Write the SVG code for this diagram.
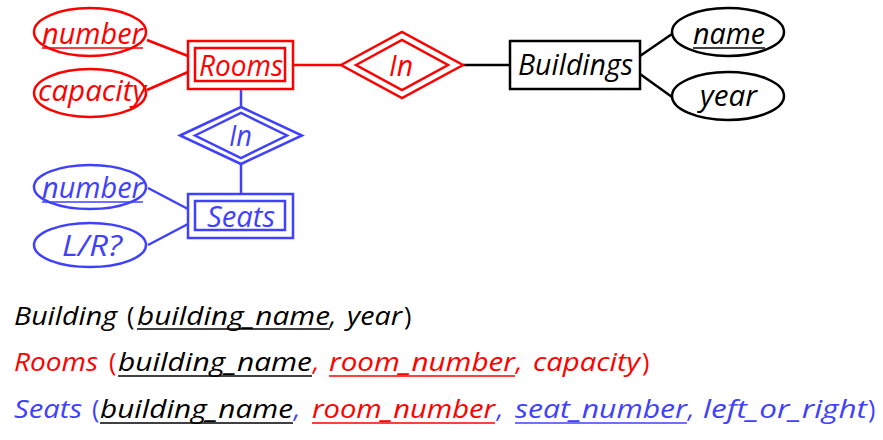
<svg xmlns="http://www.w3.org/2000/svg" width="883" height="440" viewBox="0 0 883 440">
<style>
.t{font-family:"Open Sans","Liberation Sans",sans-serif;font-style:italic;font-size:29px}
.b{font-family:"Open Sans","Liberation Sans",sans-serif;font-style:italic;font-size:25px}
.up{font-style:normal}
.r{fill:#FF0000}.u{fill:#4040FF}.k{fill:#000}
.sr{stroke:#FF0000;fill:none;stroke-width:2.5}
.su{stroke:#4040FF;fill:none;stroke-width:2.5}
.sk{stroke:#000;fill:none;stroke-width:2.5}
.ul{stroke-width:1.5}
</style>
<rect width="883" height="440" fill="#fff"/>
<g id="connectors">
<line class="sr" x1="147" y1="40" x2="188" y2="56"/>
<line class="sr" x1="147" y1="90" x2="188" y2="72"/>
<line class="sr" x1="293" y1="65" x2="341" y2="65"/>
<line class="sk" x1="463" y1="65" x2="510" y2="65"/>
<line class="sk" x1="640" y1="56" x2="672" y2="34"/>
<line class="sk" x1="640" y1="74" x2="672" y2="97"/>
<line class="su" x1="241" y1="89" x2="241" y2="107"/>
<line class="su" x1="241" y1="164" x2="241" y2="194"/>
<line class="su" x1="148" y1="188" x2="188" y2="209"/>
<line class="su" x1="148" y1="245" x2="188" y2="224"/>
</g>
<g id="rooms_number">
<ellipse class="sr" cx="90" cy="32" rx="56" ry="24"/>
<text class="t r" x="42" y="44" textLength="101" lengthAdjust="spacingAndGlyphs">number</text>
<line class="sr ul" x1="42" y1="48" x2="143" y2="48"/>
</g>
<g id="rooms_capacity">
<ellipse class="sr" cx="90" cy="93" rx="56" ry="24"/>
<text class="t r" x="38" y="101" textLength="108" lengthAdjust="spacingAndGlyphs">capacity</text>
</g>
<g id="rooms">
<rect class="sr" x="188" y="41" width="105" height="48"/>
<rect class="sr" x="195" y="48" width="90" height="33"/>
<text class="t r" x="199" y="76" textLength="84" lengthAdjust="spacingAndGlyphs">Rooms</text>
</g>
<g id="in_red">
<polygon class="sr" points="341,65 402,32 463,65 402,98"/>
<polygon class="sr" points="356,65 402,40 448,65 402,90"/>
<text class="t r" x="389" y="76" textLength="24" lengthAdjust="spacingAndGlyphs">In</text>
</g>
<g id="buildings">
<rect class="sk" x="510" y="41" width="130" height="48"/>
<text class="t k" x="518" y="75" textLength="115" lengthAdjust="spacingAndGlyphs">Buildings</text>
</g>
<g id="buildings_name">
<ellipse class="sk" cx="728" cy="32" rx="56" ry="24"/>
<text class="t k" x="693" y="44" textLength="72" lengthAdjust="spacingAndGlyphs">name</text>
<line class="sk ul" x1="693" y1="48" x2="765" y2="48" stroke="#555"/>
</g>
<g id="buildings_year">
<ellipse class="sk" cx="728" cy="96" rx="56" ry="24"/>
<text class="t k" x="700" y="106" textLength="57" lengthAdjust="spacingAndGlyphs">year</text>
</g>
<g id="in_blue">
<polygon class="su" points="180,135.5 241,107 302,135.5 241,164"/>
<polygon class="su" points="195,135.5 241,113 287,135.5 241,158"/>
<text class="t u" x="229" y="146" textLength="23" lengthAdjust="spacingAndGlyphs">In</text>
</g>
<g id="seats">
<rect class="su" x="188" y="194" width="105" height="44"/>
<rect class="su" x="195" y="201" width="90" height="29"/>
<text class="t u" x="207" y="227" textLength="68" lengthAdjust="spacingAndGlyphs">Seats</text>
</g>
<g id="seats_number">
<ellipse class="su" cx="90" cy="187" rx="56" ry="22"/>
<text class="t u" x="42" y="198" textLength="101" lengthAdjust="spacingAndGlyphs">number</text>
<line class="su ul" x1="42" y1="202" x2="143" y2="202"/>
</g>
<g id="seats_lr">
<ellipse class="su" cx="90" cy="245" rx="56" ry="22"/>
<text class="t u" x="62" y="256" textLength="60" lengthAdjust="spacingAndGlyphs">L/R?</text>
</g>
<g id="schema">
<text class="b k" x="14" y="325" textLength="103" lengthAdjust="spacingAndGlyphs">Building</text>
<text class="b k up" x="127" y="325">(</text>
<text class="b k" x="137" y="325" textLength="193" lengthAdjust="spacingAndGlyphs">building_name</text>
<line class="sk ul" x1="137" y1="329" x2="330" y2="329"/>
<text class="b k" x="330" y="325">,</text>
<text class="b k" x="347" y="325" textLength="55" lengthAdjust="spacingAndGlyphs">year</text>
<text class="b k up" x="404" y="325">)</text>

<text class="b r" x="14" y="371" textLength="84" lengthAdjust="spacingAndGlyphs">Rooms</text>
<text class="b r up" x="109" y="371">(</text>
<text class="b k" x="118" y="371" textLength="194" lengthAdjust="spacingAndGlyphs">building_name</text>
<line class="sk ul" x1="118" y1="376" x2="312" y2="376"/>
<text class="b r" x="313" y="371">,</text>
<text class="b r" x="329" y="371" textLength="186" lengthAdjust="spacingAndGlyphs">room_number</text>
<line class="sr ul" x1="329" y1="376" x2="515" y2="376"/>
<text class="b r" x="516" y="371">,</text>
<text class="b r" x="533" y="371" textLength="107" lengthAdjust="spacingAndGlyphs">capacity</text>
<text class="b r up" x="642" y="371">)</text>

<text class="b u" x="14" y="418" textLength="68" lengthAdjust="spacingAndGlyphs">Seats</text>
<text class="b u up" x="92" y="418">(</text>
<text class="b k" x="100" y="418" textLength="193" lengthAdjust="spacingAndGlyphs">building_name</text>
<line class="sk ul" x1="100" y1="423" x2="293" y2="423"/>
<text class="b u" x="294" y="418">,</text>
<text class="b r" x="312" y="418" textLength="183" lengthAdjust="spacingAndGlyphs">room_number</text>
<line class="sr ul" x1="312" y1="423" x2="495" y2="423"/>
<text class="b u" x="497" y="418">,</text>
<text class="b u" x="515" y="418" textLength="172" lengthAdjust="spacingAndGlyphs">seat_number</text>
<line class="su ul" x1="515" y1="423" x2="687" y2="423"/>
<text class="b u" x="688" y="418">,</text>
<text class="b u" x="703" y="418" textLength="164" lengthAdjust="spacingAndGlyphs">left_or_right</text>
<text class="b u up" x="868" y="418">)</text>
</g>
</svg>
